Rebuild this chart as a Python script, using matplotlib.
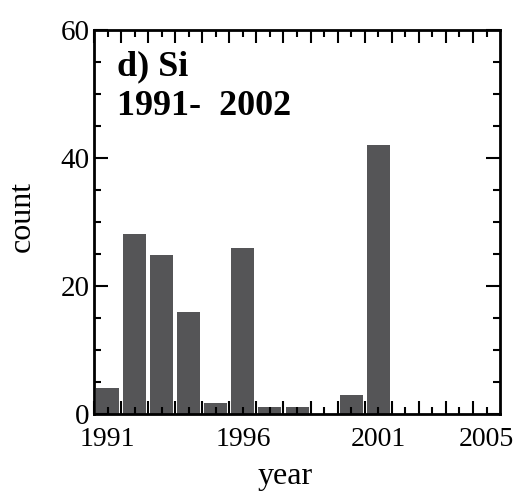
import matplotlib.pyplot as plt

# counts per year
years = [1991, 1992, 1993, 1994, 1995, 1996, 1997, 1998, 1999, 2000, 2001, 2002, 2003, 2004, 2005]
counts = [4, 28.2, 24.8, 16, 1.7, 26, 1.1, 1.1, 0, 3, 42, 0, 0, 0, 0]
label_years = [1991, 1996, 2001, 2005]

plt.rcParams['font.family'] = ['Liberation Serif', 'DejaVu Serif']

fig = plt.figure(figsize=(5.15, 4.91), dpi=100)
ax = fig.add_axes([0.1825, 0.1568, 0.7885, 0.782])

ax.bar(years, counts, width=0.85, color='#555557')

ax.set_xlim(1990.5, 2005.5)
ax.set_ylim(0, 60)

# year ticks (short) with only some labels, half-year ticks (long)
ax.set_xticks(years)
ax.set_xticklabels([str(y) if y in label_years else '' for y in years])
ax.set_xticks([y + 0.5 for y in years[:-1]] + [1990.5], minor=True)
ax.set_yticks([0, 20, 40, 60])
ax.set_yticks([5, 10, 15, 25, 30, 35, 45, 50, 55], minor=True)

ax.tick_params(axis='x', which='major', direction='in', length=5, width=1.5,
               top=True, bottom=True, labelsize=20, pad=9)
ax.tick_params(axis='x', which='minor', direction='in', length=9.5, width=1.5,
               top=True, bottom=True)
ax.tick_params(axis='y', which='major', direction='in', length=10, width=1.5,
               left=True, right=True, labelsize=21, pad=3)
ax.tick_params(axis='y', which='minor', direction='in', length=5, width=1.5,
               left=True, right=True)

for s in ax.spines.values():
    s.set_linewidth(2)

ax.set_xlabel('year', fontsize=23)
ax.xaxis.set_label_coords(0.47, -0.125)
ax.set_ylabel('count', fontsize=23)
ax.yaxis.set_label_coords(-0.14, 0.515)

ax.text(0.057, 0.883, 'd) Si', transform=ax.transAxes, fontsize=26, fontweight='bold')
ax.text(0.057, 0.779, '1991-  2002', transform=ax.transAxes, fontsize=26, fontweight='bold')

fig.savefig('out.png', dpi=100)
